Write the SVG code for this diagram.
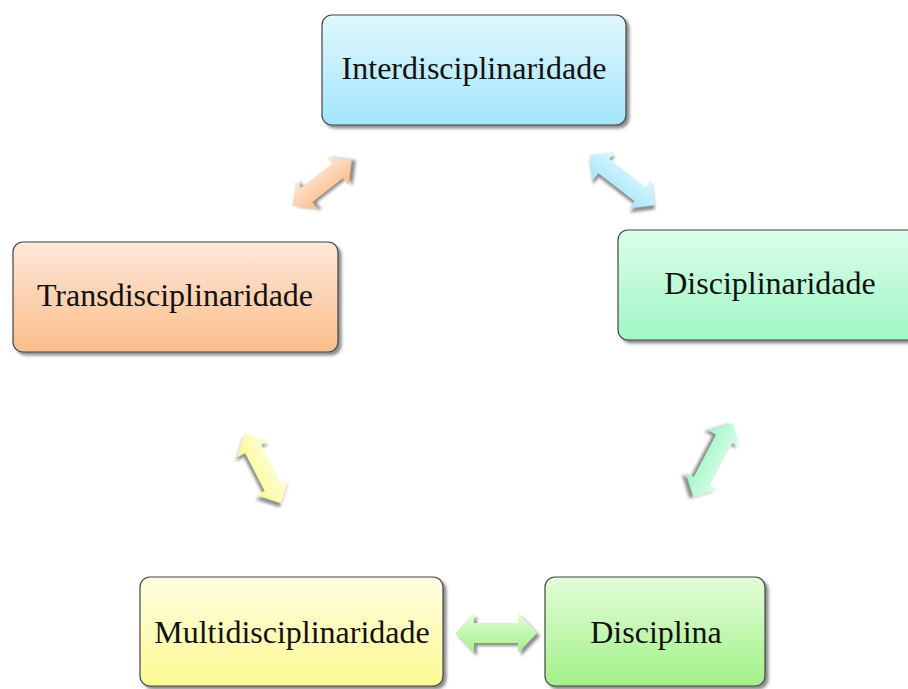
<svg xmlns="http://www.w3.org/2000/svg" width="908" height="689" viewBox="0 0 908 689">
<defs>
<filter id="sh" x="-10%" y="-10%" width="125%" height="130%">
<feDropShadow dx="3" dy="3" stdDeviation="1.5" flood-color="#666" flood-opacity="0.75"/>
</filter>
<linearGradient id="gBlue" x1="0" y1="0" x2="0" y2="1"><stop offset="0" stop-color="#e0f7fe"/><stop offset="1" stop-color="#a3e5fb"/></linearGradient>
<linearGradient id="gOrange" x1="0" y1="0" x2="0" y2="1"><stop offset="0" stop-color="#fde8da"/><stop offset="1" stop-color="#fbbd8a"/></linearGradient>
<linearGradient id="gTeal" x1="0" y1="0" x2="0" y2="1"><stop offset="0" stop-color="#dcfdeb"/><stop offset="1" stop-color="#a0f7c5"/></linearGradient>
<linearGradient id="gYellow" x1="0" y1="0" x2="0" y2="1"><stop offset="0" stop-color="#fefee2"/><stop offset="1" stop-color="#fcf993"/></linearGradient>
<linearGradient id="gGreen" x1="0" y1="0" x2="0" y2="1"><stop offset="0" stop-color="#e4fdd8"/><stop offset="1" stop-color="#a2f189"/></linearGradient>
</defs>
<style>
.box{stroke:#444;stroke-width:1.2;filter:url(#sh)}
.lbl{font-family:"Liberation Serif","Times New Roman",serif;font-size:32px;fill:#111;text-anchor:middle}
.arr{filter:url(#sh)}
</style>
<g id="connectors">
<polygon class="arr" fill="url(#gOrange)" transform="translate(322,183) rotate(-38)" points="-37.5,0 -19.5,-18 -19.5,-9 19.5,-9 19.5,-18 37.5,0 19.5,18 19.5,9 -19.5,9 -19.5,18"/>
<polygon class="arr" fill="url(#gBlue)" transform="translate(622,180) rotate(37.6)" points="-41,0 -23,-18 -23,-9 23,-9 23,-18 41,0 23,18 23,9 -23,9 -23,18"/>
<polygon class="arr" fill="url(#gYellow)" transform="translate(263,468) rotate(62.8)" points="-39.5,0 -21.5,-18 -21.5,-9 21.5,-9 21.5,-18 39.5,0 21.5,18 21.5,9 -21.5,9 -21.5,18"/>
<polygon class="arr" fill="url(#gTeal)" transform="translate(713,460) rotate(117.8)" points="-42,0 -24,-18 -24,-9 24,-9 24,-18 42,0 24,18 24,9 -24,9 -24,18"/>
<polygon class="arr" fill="url(#gGreen)" transform="translate(496,633)" points="-41,0 -22,-20 -22,-10 22,-10 22,-20 41,0 22,20 22,10 -22,10 -22,20"/>
</g>
<g id="interdisciplinaridade">
<rect class="box" x="322" y="15" width="304" height="110" rx="10" fill="url(#gBlue)"/>
<text class="lbl" x="474" y="79">Interdisciplinaridade</text>
</g>
<g id="transdisciplinaridade">
<rect class="box" x="13" y="242" width="325" height="110" rx="10" fill="url(#gOrange)"/>
<text class="lbl" x="175" y="306">Transdisciplinaridade</text>
</g>
<g id="disciplinaridade">
<rect class="box" x="618" y="230" width="304" height="110" rx="10" fill="url(#gTeal)"/>
<text class="lbl" x="770" y="294">Disciplinaridade</text>
</g>
<g id="multidisciplinaridade">
<rect class="box" x="140" y="577" width="303" height="109" rx="10" fill="url(#gYellow)"/>
<text class="lbl" x="292" y="643">Multidisciplinaridade</text>
</g>
<g id="disciplina">
<rect class="box" x="545" y="577" width="220" height="109" rx="10" fill="url(#gGreen)"/>
<text class="lbl" x="656" y="643">Disciplina</text>
</g>
</svg>
